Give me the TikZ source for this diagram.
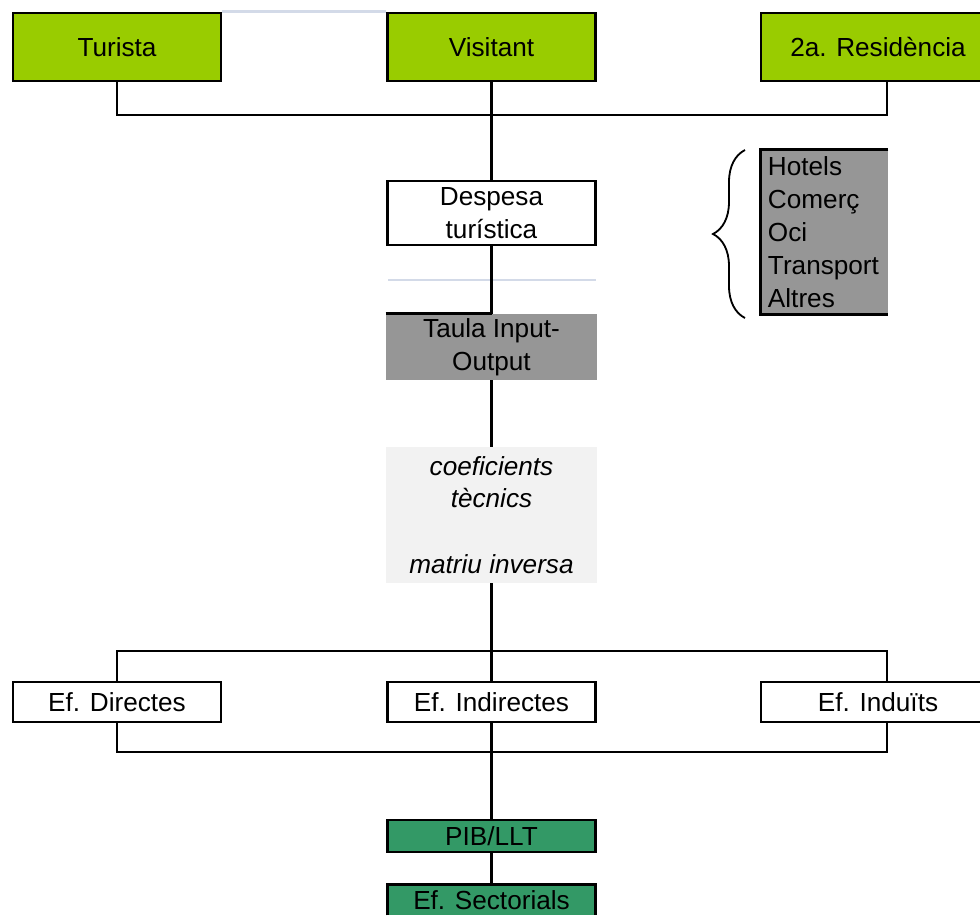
\documentclass[tikz,border=0pt]{standalone}
\usepackage{fontspec}
\setmainfont{Liberation Sans}
\usetikzlibrary{positioning,decorations.pathreplacing}
\definecolor{verd}{HTML}{99CC00}
\definecolor{verdfosc}{HTML}{339966}
\definecolor{gris}{HTML}{969696}
\definecolor{grisclar}{HTML}{F2F2F2}
\definecolor{blavos}{HTML}{D3DAE8}
\newcommand{\lletra}{\fontsize{18.6pt}{23.4pt}\selectfont}
\tikzstyle{caixa}=[draw, line width=2pt, minimum width=5.2cm, minimum height=1.7cm, inner sep=0pt, align=center, font=\lletra]
\tikzstyle{verda}=[caixa, fill=verd]
\tikzstyle{efecte}=[caixa, fill=white, minimum height=1cm]
\tikzstyle{pla}=[minimum width=5.275cm, inner sep=0pt, align=center, font=\lletra]
\tikzstyle{linia}=[line width=2pt]
\tikzstyle{guia}=[blavos, line width=1.6pt]
\tikzstyle{clau}=[decorate, decoration={brace, amplitude=0.8cm}, line width=1.3pt]

\begin{document}
\begin{tikzpicture}[x=0.025cm, y=-0.025cm]
	\useasboundingbox (0,0) rectangle (980,915);
	% origen
	\node[verda] (tur) at (117,47) {Turista};
	\node[verda] (vis) at (491.5,47) {Visitant};
	\node[verda, minimum width=5.85cm] (res) at (878,47) {2a. Residència};
	% despesa
	\node[caixa, fill=white, minimum height=1.6cm] (desp) at (491.5,213) {Despesa\\turística};
	\node[pla, fill=gris, minimum height=1.65cm] (taula) at (491.5,347) {Taula Input-\\Output};
	\node[pla, fill=grisclar, minimum height=3.4cm, font=\lletra\itshape] (coef) at (491.5,515) {coeficients\\tècnics\\[23.4pt]matriu inversa};
	\node[pla, fill=gris, minimum width=3.175cm, minimum height=4.1cm, text width=2.825cm, inner xsep=0.175cm, align=left] (sect) at (824.5,232) {Hotels\\Comerç\\Oci\\Transport\\Altres};
	% efectes
	\node[efecte] (dir) at (117,702) {Ef. Directes};
	\node[efecte] (indir) at (491.5,702) {Ef. Indirectes};
	\node[efecte, minimum width=5.85cm] (indu) at (878,702) {Ef. Induïts};
	\node[caixa, fill=verdfosc, minimum height=0.8cm] (pib) at (491.5,836) {PIB/LLT};
	\node[pla, fill=verdfosc, minimum width=5.2cm, minimum height=0.75cm] (sector) at (491.5,900) {Ef. Sectorials};

	\coordinate (bus1) at (491.5,115);
	\coordinate (resx) at (887,82);
	\coordinate (bus2) at (491.5,651);
	\coordinate (indx) at (887,682);
	\coordinate (bus3) at (491.5,752);
	\coordinate (indy) at (887,722);

	\draw[guia] (tur.north east) -- (vis.north west);
	\draw[guia] (388,280) -- (596,280);

	\draw[linia] (tur.south) |- (bus1) -| (resx);
	\draw[linia] (vis) -- (desp);
	\draw[linia] (desp) -- (taula);
	\draw[linia] (taula.north west) -- (taula.north);
	\draw[linia] (taula) -- (coef);
	\draw[linia] (coef) -- (indir);
	\draw[linia] (dir.north) |- (bus2) -| (indx);
	\draw[linia] (dir.south) |- (bus3) -| (indy);
	\draw[linia] (indir) -- (pib);
	\draw[linia] (pib) -- (sector);

	\draw[linia] (sect.north east) -- (sect.north west) -- (sect.south west) -- (sect.south east);
	\draw[linia] (sector.south west) -- (sector.north west) -- (sector.north east) -- (sector.south east);
	\draw[clau] (745,318) -- (745,150);
\end{tikzpicture}
\end{document}
